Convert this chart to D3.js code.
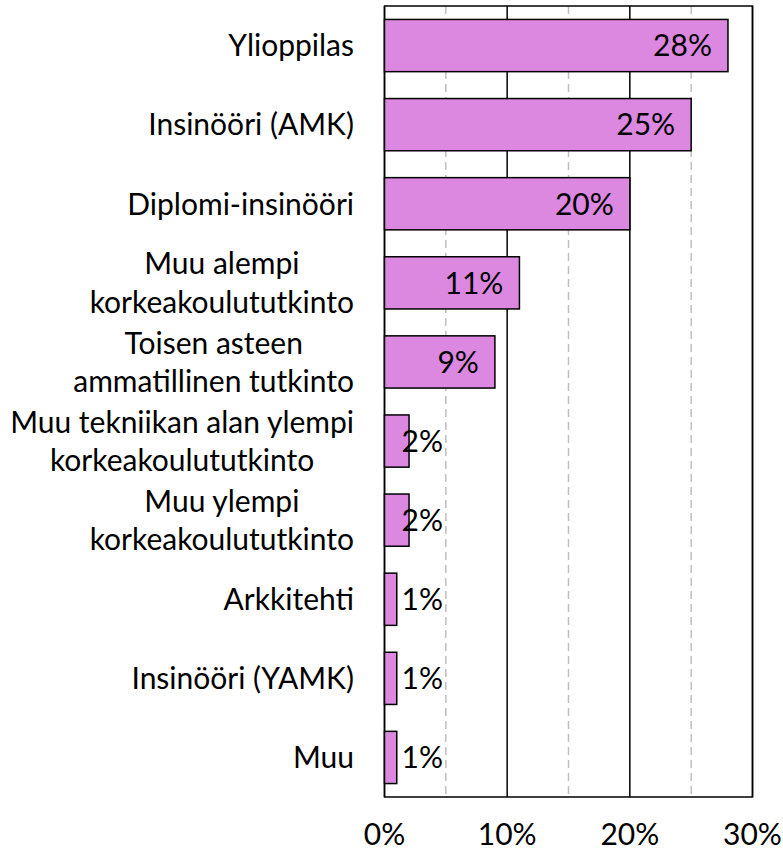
<!DOCTYPE html>
<html><head><meta charset="utf-8">
<script src="https://cdn.jsdelivr.net/npm/d3@7"></script>
<style>
body{margin:0;background:#fff;}
text{font-family:Lato,"Open Sans",sans-serif;fill:#000;}
</style></head>
<body><svg id="chart" width="783" height="852"></svg>
<script>
const categories = [
  ["Ylioppilas"],
  ["Insinööri (AMK)"],
  ["Diplomi-insinööri"],
  ["Muu alempi","korkeakoulututkinto"],
  ["Toisen asteen","ammatillinen tutkinto"],
  ["Muu tekniikan alan ylempi","korkeakoulututkinto"],
  ["Muu ylempi","korkeakoulututkinto"],
  ["Arkkitehti"],
  ["Insinööri (YAMK)"],
  ["Muu"]
];
const values = [28, 25, 20, 11, 9, 2, 2, 1, 1, 1];
const majorTicks = [0, 10, 20, 30];
const minorTicks = [5, 15, 25];

const FS = 30;
const svg = d3.select("#chart");
const x = d3.scaleLinear().domain([0, 30]).range([384.5, 752.5]);
const y = d3.scaleBand().domain(d3.range(categories.length)).range([6, 797]).paddingInner(0.34).paddingOuter(0.17);

// minor dashed grid
svg.selectAll("line.minor").data(minorTicks).enter().append("line")
  .attr("x1", d => x(d)).attr("x2", d => x(d))
  .attr("y1", 6).attr("y2", 797)
  .attr("stroke", "#bfbfbf").attr("stroke-width", 1.5).attr("stroke-dasharray", "8,5");

// major grid
svg.selectAll("line.major").data(majorTicks).enter().append("line")
  .attr("x1", d => x(d)).attr("x2", d => x(d))
  .attr("y1", 6).attr("y2", 797)
  .attr("stroke", "#000").attr("stroke-width", 1.5);

// plot border
svg.append("rect").attr("x", x(0)).attr("y", 6).attr("width", x(30) - x(0)).attr("height", 791)
  .attr("fill", "none").attr("stroke", "#000").attr("stroke-width", 1.5);

// bars
svg.selectAll("rect.bar").data(values).enter().append("rect")
  .attr("x", x(0)).attr("y", (d, i) => y(i))
  .attr("width", d => x(d) - x(0)).attr("height", y.bandwidth())
  .attr("fill", "#DC88E1").attr("stroke", "#000").attr("stroke-width", 1.5);

// value labels
svg.selectAll("text.val").data(values).enter().append("text")
  .attr("font-size", FS)
  .attr("y", (d, i) => y(i) + y.bandwidth() / 2)
  .attr("dy", "0.36em")
  .text(d => d + "%")
  .each(function(d) {
    const w = this.getComputedTextLength();
    const lx = Math.max(x(d) - 16 - w, x(0) + 17);
    d3.select(this).attr("x", lx);
  });

// category labels
const lineH = 38.4;
categories.forEach((lines, i) => {
  const cy = y(i) + y.bandwidth() / 2;
  const g = svg.append("g");
  const texts = lines.map((ln, k) => g.append("text")
    .attr("font-size", FS)
    .attr("text-anchor", "middle")
    .attr("y", cy + (k - (lines.length - 1) / 2) * lineH)
    .attr("dy", "0.36em")
    .text(ln));
  const maxW = d3.max(texts, t => t.node().getComputedTextLength());
  const cx = 354 - maxW / 2;
  texts.forEach(t => t.attr("x", cx));
});

// x axis tick labels
svg.selectAll("text.tick").data(majorTicks).enter().append("text")
  .attr("font-size", FS)
  .attr("text-anchor", "middle")
  .attr("x", d => x(d)).attr("y", 834).attr("dy", "0.36em")
  .text(d => d + "%");
</script></body></html>
